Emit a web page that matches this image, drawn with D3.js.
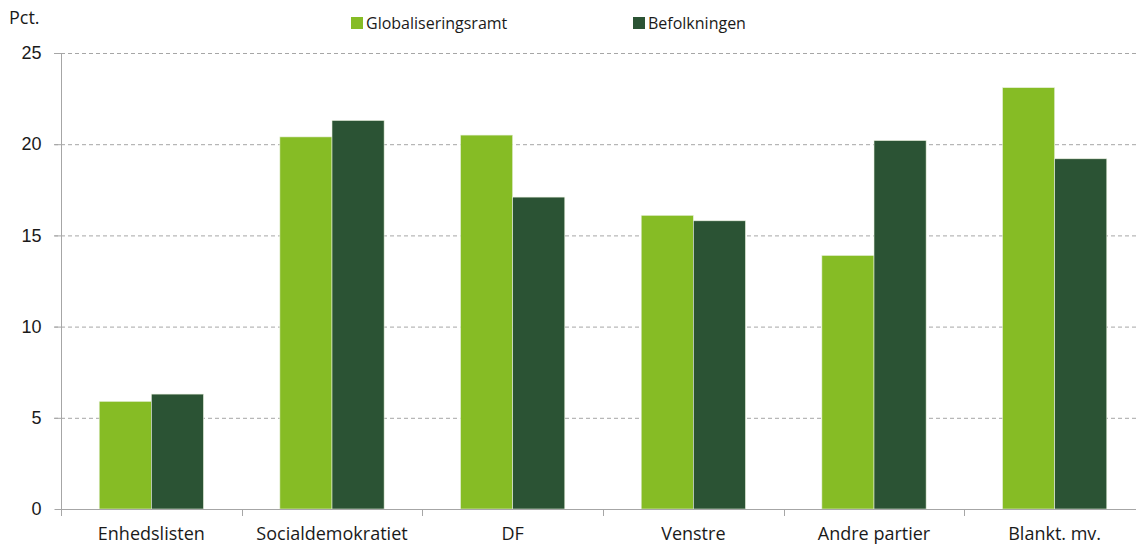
<!DOCTYPE html>
<html>
<head>
<meta charset="utf-8">
<script src="https://cdn.jsdelivr.net/npm/d3@7"></script>
<style>
  body { margin: 0; background: #fff; }
  svg { display: block; font-family: "Open Sans", sans-serif; }
  .tick-label { font-size: 18px; fill: #1a1a1a; }
  .legend-label { font-size: 16px; fill: #1a1a1a; }
</style>
</head>
<body>
<div id="main"></div>
<script>
// data
var categories = ["Enhedslisten", "Socialdemokratiet", "DF", "Venstre", "Andre partier", "Blankt. mv."];
var globaliseringsramt = [5.9, 20.4, 20.5, 16.1, 13.9, 23.1];
var befolkningen = [6.3, 21.3, 17.1, 15.8, 20.2, 19.2];
var seriesNames = ["Globaliseringsramt", "Befolkningen"];
var yTicks = [0, 5, 10, 15, 20, 25];

var colors = ["#86bc25", "#2b5334"];

var width = 1136, height = 546;
var padding = { top: 53, right: -9, bottom: 37, left: 61 };

var svg = d3.select("#main")
    .append("svg")
    .attr("width", width)
    .attr("height", height);

var xScale = d3.scaleBand()
    .domain(categories)
    .range([padding.left, width - padding.right])
    .paddingInner(0)
    .paddingOuter(0);

var groupWidth = 0.577 * xScale.bandwidth();
var xInner = d3.scaleBand()
    .domain(seriesNames)
    .range([0, groupWidth]);

var yScale = d3.scaleLinear()
    .domain([0, 25])
    .range([height - padding.bottom, padding.top]);

// gridlines
svg.append("g")
    .selectAll("line")
    .data(yTicks.filter(function (d) { return d > 0; }))
    .enter().append("line")
    .attr("x1", padding.left - 7)
    .attr("x2", width)
    .attr("y1", function (d) { return yScale(d) + 0.5; })
    .attr("y2", function (d) { return yScale(d) + 0.5; })
    .attr("stroke", "#a6a6a6")
    .attr("stroke-width", 1)
    .attr("stroke-dasharray", "4,3");

// bars
var rows = categories.map(function (c, i) {
    return { cat: c, values: [globaliseringsramt[i], befolkningen[i]] };
});

var groups = svg.append("g")
    .selectAll("g")
    .data(rows)
    .enter().append("g")
    .attr("transform", function (d) {
        return "translate(" + (xScale(d.cat) + (xScale.bandwidth() - groupWidth) / 2) + ",0)";
    });

groups.selectAll("rect")
    .data(function (d) { return d.values.map(function (v, j) { return { key: seriesNames[j], v: v, j: j }; }); })
    .enter().append("rect")
    .attr("x", function (d) { return xInner(d.key); })
    .attr("y", function (d) { return yScale(d.v); })
    .attr("width", xInner.bandwidth())
    .attr("height", function (d) { return yScale(0) - yScale(d.v); })
    .attr("fill", function (d) { return colors[d.j]; })
    .attr("stroke", "#e8f0dc")
    .attr("stroke-width", 0.6);

// y axis
var yAxis = svg.append("g")
    .attr("transform", "translate(" + (padding.left + 0.5) + ",0)")
    .call(d3.axisLeft(yScale).tickValues(yTicks).tickSize(7).tickPadding(13));
yAxis.select(".domain").attr("stroke", "#a6a6a6").attr("d", "M0," + yScale(25) + "V" + yScale(0));
yAxis.selectAll(".tick line").attr("stroke", "#a6a6a6");
yAxis.selectAll(".tick text").attr("class", "tick-label").attr("font-family", null).attr("font-size", null);

// x axis
svg.append("line")
    .attr("x1", padding.left)
    .attr("x2", width)
    .attr("y1", yScale(0) + 0.5)
    .attr("y2", yScale(0) + 0.5)
    .attr("stroke", "#a6a6a6");

var bounds = categories.map(function (c) { return xScale(c); });
svg.append("g")
    .selectAll("line")
    .data(bounds)
    .enter().append("line")
    .attr("x1", function (d) { return Math.round(d) + 0.5; })
    .attr("x2", function (d) { return Math.round(d) + 0.5; })
    .attr("y1", yScale(0))
    .attr("y2", yScale(0) + 7)
    .attr("stroke", "#a6a6a6");

svg.append("g")
    .selectAll("text")
    .data(categories)
    .enter().append("text")
    .attr("class", "tick-label")
    .attr("x", function (d) { return xScale(d) + xScale.bandwidth() / 2; })
    .attr("y", 540)
    .attr("text-anchor", "middle")
    .text(function (d) { return d; });

// unit label
svg.append("text")
    .attr("class", "tick-label")
    .attr("x", 9)
    .attr("y", 24)
    .text("Pct.");

// legend
var legendX = [351, 633];
var legend = svg.append("g")
    .selectAll("g")
    .data(seriesNames)
    .enter().append("g")
    .attr("transform", function (d, i) { return "translate(" + legendX[i] + ",17)"; });
legend.append("rect")
    .attr("width", 12)
    .attr("height", 12)
    .attr("fill", function (d, i) { return colors[i]; });
legend.append("text")
    .attr("class", "legend-label")
    .attr("x", 15)
    .attr("y", 12)
    .text(function (d) { return d; });
</script>
</body>
</html>
